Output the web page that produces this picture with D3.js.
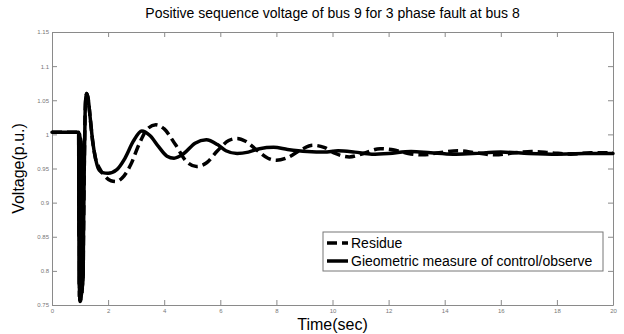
<!DOCTYPE html>
<html>
<head>
<meta charset="utf-8">
<script src="https://cdn.jsdelivr.net/npm/d3@7"></script>
<style>
  body { margin: 0; background: #fff; }
  text { font-family: "Liberation Sans", Arial, sans-serif; }
</style>
</head>
<body>
<div id="chart"></div>
<script>
// time (sec) / voltage (p.u.)
const faultT = [0, 0.95, 0.96, 0.965, 0.97, 0.975, 0.98, 0.985, 0.99, 0.995, 1.0, 1.005, 1.01, 1.015, 1.02, 1.025, 1.03, 1.035, 1.04, 1.045, 1.05, 1.055, 1.06, 1.065, 1.07, 1.075, 1.08, 1.085, 1.09, 1.095, 1.10, 1.105, 1.11, 1.12, 1.15, 1.18, 1.21, 1.24, 1.29, 1.36, 1.45, 1.55];
const faultV = [1.003, 1.003, 0.85, 1.0, 0.78, 1.0, 0.762, 0.998, 0.757, 0.996, 0.755, 0.994, 0.756, 0.992, 0.758, 0.99, 0.76, 0.988, 0.762, 0.986, 0.765, 0.984, 0.768, 0.982, 0.77, 0.98, 0.775, 0.978, 0.78, 0.976, 0.785, 0.974, 0.79, 0.84, 0.95, 1.03, 1.055, 1.06, 1.052, 1.025, 0.99, 0.965];

const geoT = [1.65, 1.8, 2.0, 2.3, 2.6, 2.9, 3.2, 3.5, 3.8, 4.1, 4.35, 4.7, 5.1, 5.5, 5.9, 6.2, 6.6, 7.0, 7.4, 7.9, 8.4, 9.1, 9.7, 10.2, 10.8, 11.4, 12.0, 12.8, 13.5, 14.3, 15.0, 16.0, 17.0, 18.0, 19.0, 20.0];
const geoV = [0.95, 0.944, 0.943, 0.948, 0.965, 0.99, 1.005, 0.998, 0.982, 0.968, 0.965, 0.972, 0.987, 0.992, 0.985, 0.976, 0.972, 0.974, 0.979, 0.981, 0.978, 0.975, 0.974, 0.976, 0.974, 0.971, 0.972, 0.975, 0.973, 0.971, 0.972, 0.974, 0.972, 0.971, 0.972, 0.972];

const resT = [1.7, 1.9, 2.1, 2.3, 2.5, 2.8, 3.1, 3.4, 3.7, 4.0, 4.4, 4.8, 5.15, 5.5, 5.9, 6.3, 6.6, 6.9, 7.3, 7.7, 8.0, 8.4, 8.9, 9.3, 9.7, 10.1, 10.6, 11.1, 11.7, 12.2, 12.7, 13.2, 13.8, 14.5, 15.1, 15.8, 16.5, 17.1, 17.8, 18.5, 19.2, 20.0];
const resV = [0.95, 0.938, 0.932, 0.931, 0.936, 0.955, 0.985, 1.008, 1.014, 1.008, 0.985, 0.96, 0.953, 0.958, 0.976, 0.991, 0.994, 0.99, 0.977, 0.965, 0.962, 0.966, 0.978, 0.984, 0.981, 0.972, 0.967, 0.972, 0.979, 0.977, 0.972, 0.970, 0.973, 0.976, 0.973, 0.970, 0.973, 0.975, 0.973, 0.971, 0.973, 0.973];

const xTicks = [0, 2, 4, 6, 8, 10, 12, 14, 16, 18, 20];
const yTicks = [0.75, 0.8, 0.85, 0.9, 0.95, 1, 1.05, 1.1, 1.15];

const legendNames = ['Residue', 'Gieometric measure of control/observe'];

const margin = { left: 52, right: 11, top: 32, bottom: 29 };
const W = 624, H = 334;
const width = W - margin.left - margin.right;
const height = H - margin.top - margin.bottom;

const svg = d3.select('#chart').append('svg')
  .attr('width', W).attr('height', H)
  .style('background', '#fff');

const g = svg.append('g')
  .attr('transform', 'translate(' + margin.left + ',' + margin.top + ')');

const x = d3.scaleLinear().domain([0, 20]).range([0, width]);
const y = d3.scaleLinear().domain([0.75, 1.15]).range([height, 0]);

const axisColor = '#8a8a8a';
const fmt = d => String(d);

// axes with inward ticks (matlab style box)
const xAxis = g.append('g').attr('transform', 'translate(0,' + height + ')')
  .call(d3.axisBottom(x).tickValues(xTicks).tickFormat(fmt).tickSizeInner(-5).tickSizeOuter(0).tickPadding(4));
const yAxis = g.append('g')
  .call(d3.axisLeft(y).tickValues(yTicks).tickFormat(fmt).tickSizeInner(-5).tickSizeOuter(0).tickPadding(3));
const xTop = g.append('g')
  .call(d3.axisTop(x).tickValues(xTicks).tickFormat('').tickSizeInner(-5).tickSizeOuter(0));
const yRight = g.append('g').attr('transform', 'translate(' + width + ',0)')
  .call(d3.axisRight(y).tickValues(yTicks).tickFormat('').tickSizeInner(-5).tickSizeOuter(0));

[xAxis, yAxis, xTop, yRight].forEach(a => {
  a.select('.domain').attr('stroke', axisColor);
  a.selectAll('.tick line').attr('stroke', axisColor);
  a.selectAll('.tick text').attr('fill', '#777').style('font-size', '6px')
    .style('font-family', '"Liberation Sans", Arial, sans-serif');
});

const line = d3.line()
  .x(d => x(d[0]))
  .y(d => y(d[1]))
  .curve(d3.curveMonotoneX);

const faultPts = faultT.map((t, i) => [t, faultV[i]]);
const geoPts = faultPts.concat(geoT.map((t, i) => [t, geoV[i]]));
const resPts = faultPts.concat(resT.map((t, i) => [t, resV[i]]));

g.append('path').datum(resPts)
  .attr('d', line)
  .attr('fill', 'none')
  .attr('stroke', '#000')
  .attr('stroke-width', 3.5)
  .attr('stroke-dasharray', '10,5');

g.append('path').datum(geoPts)
  .attr('d', line)
  .attr('fill', 'none')
  .attr('stroke', '#000')
  .attr('stroke-width', 3.5)
  .attr('stroke-linejoin', 'round')
  .attr('stroke-linecap', 'round');

// title and labels
svg.append('text')
  .attr('x', margin.left + width / 2).attr('y', 18)
  .attr('text-anchor', 'middle')
  .style('font-size', '14px')
  .text('Positive sequence voltage of bus 9 for 3 phase fault at bus 8');

svg.append('text')
  .attr('x', margin.left + width / 2).attr('y', 330)
  .attr('text-anchor', 'middle')
  .style('font-size', '16px')
  .text('Time(sec)');

svg.append('text')
  .attr('transform', 'translate(24,' + (margin.top + height / 2) + ') rotate(-90)')
  .attr('text-anchor', 'middle')
  .style('font-size', '16px')
  .text('Voltage(p.u.)');

// legend
const leg = svg.append('g').attr('transform', 'translate(323,232)');
leg.append('rect')
  .attr('width', 280).attr('height', 39)
  .attr('fill', '#fff').attr('stroke', '#777').attr('stroke-width', 1);

legendNames.forEach((name, i) => {
  const ly = 11 + i * 18;
  leg.append('line')
    .attr('x1', 4).attr('x2', 25).attr('y1', ly).attr('y2', ly)
    .attr('stroke', '#000').attr('stroke-width', 3.5)
    .attr('stroke-dasharray', i === 0 ? '10,5' : null);
  leg.append('text')
    .attr('x', 28).attr('y', ly + 5)
    .style('font-size', '14px')
    .text(name);
});
</script>
</body>
</html>
